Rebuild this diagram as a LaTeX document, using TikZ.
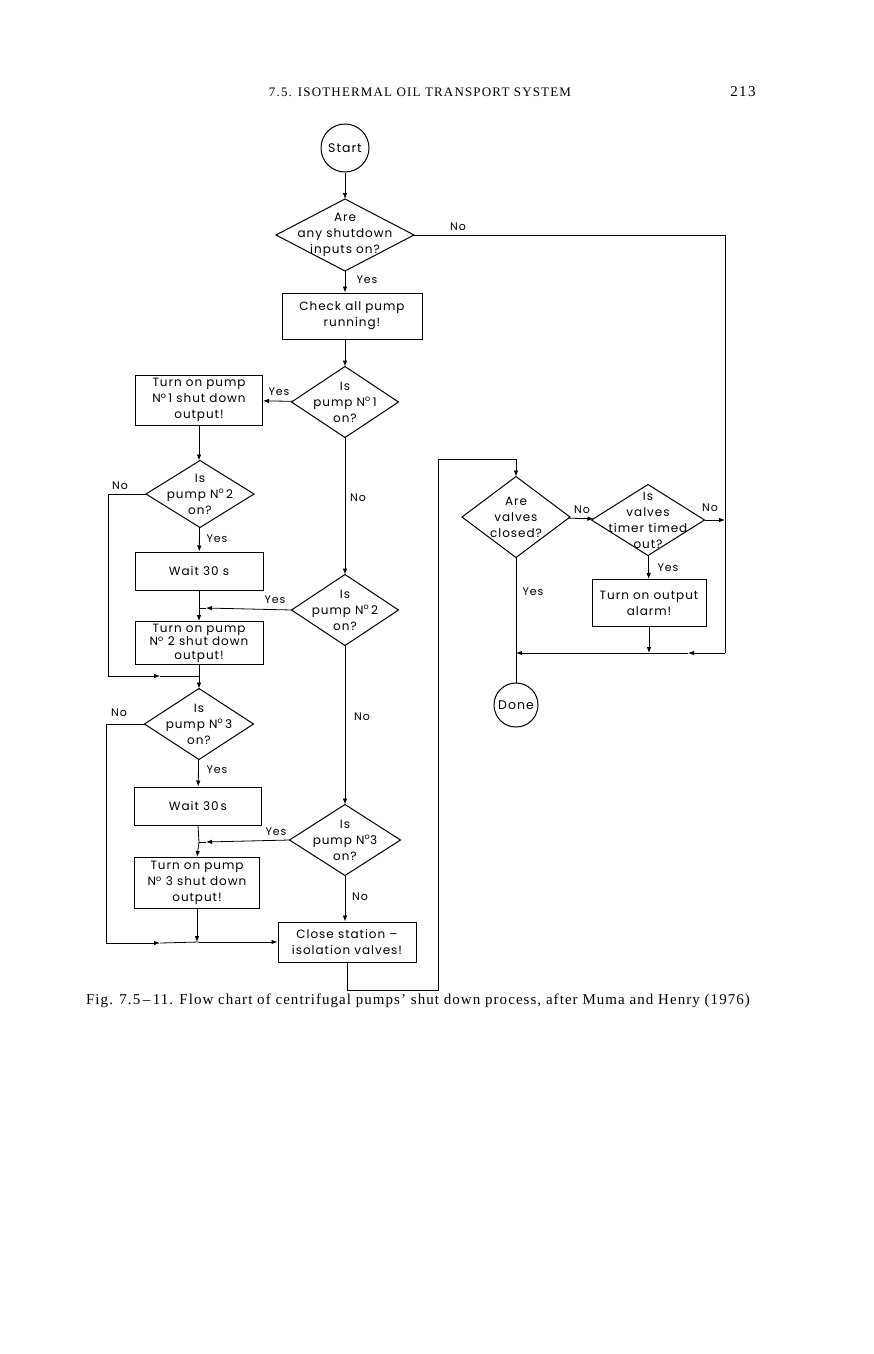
\documentclass[tikz,border=0pt]{standalone}
\usepackage{fontspec}
\setmainfont{Liberation Serif}
\newfontfamily\chartfont[LetterSpace=8,WordSpace=2.2]{Poppins}
\newfontfamily\tagfont[LetterSpace=8]{Poppins}
\newfontfamily\headfont[LetterSpace=9]{Liberation Serif}
\newfontfamily\capfont[LetterSpace=7]{Liberation Serif}
\usetikzlibrary{shapes.geometric,arrows.meta}

\begin{document}
\begin{tikzpicture}
	[
		x=1pt, y=-1pt,
		line width=0.8pt,
		font=\chartfont\fontsize{12}{16}\selectfont,
		box/.style = {rectangle, align=center, draw=black, fill=none, inner sep=0pt, line width=1pt},
		term/.style = {circle, align=center, draw=black, fill=none, inner sep=0pt, line width=1pt, font=\tagfont\fontsize{12.5}{16}\selectfont},
		decision/.style = {diamond, draw=black, fill=none, inner sep=0pt, outer sep=0pt, line width=1pt},
		ask/.style = {decision, label={[align=center]center:#1}},
		tag/.style = {inner sep=0pt, font=\tagfont\fontsize{11}{13}\selectfont},
		arr/.style = {-{Latex[length=6pt,width=4.5pt]}},
		print/.style = {inner sep=0pt},
	]

	\useasboundingbox (0,0) rectangle (874,1354);

	% page texts
	\node[print, font=\headfont\fontsize{13}{15}\selectfont] (head) at (420,92) {7.5. ISOTHERMAL OIL TRANSPORT SYSTEM};
	\node[print, font=\headfont\fontsize{15}{17}\selectfont] (page) at (743,92) {213};
	\node[print, font=\capfont\fontsize{15}{17}\selectfont] (cap) at (418,1001) {Fig. 7.5\,\textendash\,11. Flow chart of centrifugal pumps’ shut down process, after Muma and Henry (1976)};

	% terminals
	\node[term, minimum size=48pt] (start) at (345,148) {Start};
	\node[term, minimum size=44pt] (done) at (516,705) {Done};

	% questions
	\node[ask={Are\\any shutdown\\inputs on?}, minimum width=138pt, minimum height=72pt] (d0) at (345,235) {};
	\node[ask={Is\\pump N\textsuperscript{o}\,1\\on?}, minimum width=107pt, minimum height=71pt] (p1) at (345,402) {};
	\node[ask={Is\\pump N\textsuperscript{o}\,2\\on?}, minimum width=108pt, minimum height=67pt] (p2a) at (200,494) {};
	\node[ask={Is\\pump N\textsuperscript{o}\,3\\on?}, minimum width=109pt, minimum height=71pt] (p3a) at (199,724) {};
	\node[ask={Is\\pump N\textsuperscript{o}\,2\\on?}, minimum width=107pt, minimum height=71pt] (p2b) at (345,610) {};
	\node[ask={Is\\pump N\textsuperscript{o}3\\on?}, minimum width=111pt, minimum height=71pt] (p3b) at (345,840) {};
	\node[ask={Are\\valves\\closed?}, minimum width=108pt, minimum height=81pt] (av) at (516,517) {};
	\node[ask={Is\\valves\\timer timed\\out?}, minimum width=113pt, minimum height=71pt] (tm) at (648,520) {};

	% actions
	\node[box, minimum width=140pt, minimum height=46pt] (chk) at (352,316) {Check all pump\\running!};
	\node[box, minimum width=127pt, minimum height=50pt] (on1) at (199,400) {Turn on pump\\N\textsuperscript{o}\,1 shut down\\output!};
	\node[box, minimum width=128pt, minimum height=38pt] (w1) at (199,571) {Wait 30 s};
	\node[box, minimum width=128pt, minimum height=43pt, font=\chartfont\fontsize{12}{13.5}\selectfont] (on2) at (199,643) {Turn on pump\\N\textsuperscript{o} 2 shut down\\output!};
	\node[box, minimum width=127pt, minimum height=38pt] (w2) at (198,806) {Wait 30\,s};
	\node[box, minimum width=125pt, minimum height=51pt] (on3) at (197,883) {Turn on pump\\N\textsuperscript{o} 3 shut down\\output!};
	\node[box, minimum width=138pt, minimum height=40pt] (cls) at (347,942) {Close station \textendash\\isolation valves!};
	\node[box, minimum width=114pt, minimum height=47pt] (alm) at (649,603) {Turn on output\\alarm!};

	% bends and joins
	\coordinate (rb) at (725,653);
	\coordinate (rm) at (688,653);
	\coordinate (ja) at (516,653);
	\coordinate (j1) at (199,608);
	\coordinate (y2m) at (206,608);
	\coordinate (n2c) at (108,676);
	\coordinate (n2m) at (160,676);
	\coordinate (j2) at (199,676);
	\coordinate (j3) at (199,842);
	\coordinate (y3m) at (206,842);
	\coordinate (n3c) at (106,943);
	\coordinate (n3m) at (160,943);
	\coordinate (j4) at (199,942);
	\coordinate (lpb) at (438,990);
	\coordinate (lpt) at (438,459);

	% straight arrows
	\foreach \from/\to in {start/d0,p1/p2b,p2b/p3b,p1/on1,p2a/w1,p3a/w2,av/tm,tm/alm}
	\draw[arr] (\from) -- (\to);

	\draw[arr] (d0.south) -- (d0.south |- chk.north);
	\draw[arr] (chk.south -| p1.north) -- (p1.north);
	\draw[arr] (on1.south) -- (on1.south |- p2a.north);
	\draw[arr] (p3b.south) -- (p3b.south |- cls.north);

	% joins on the left
	\draw (w1.south) -- (j1);
	\draw[arr] (j1) -- (on2.north);
	\draw[arr] (p2b.west) -- (y2m);
	\draw (y2m) -- (j1);
	\draw (p2a.west) -| (n2c);
	\draw[arr] (n2c) -- (n2m);
	\draw (n2m) -- (j2);
	\draw (on2.south) -- (j2);
	\draw[arr] (j2) -- (p3a.north);
	\draw (w2.south) -- (j3);
	\draw[arr] (j3) -- (on3.north);
	\draw[arr] (p3b.west) -- (y3m);
	\draw (y3m) -- (j3);
	\draw (p3a.west) -| (n3c);
	\draw[arr] (n3c) -- (n3m);
	\draw (n3m) -- (j4);
	\draw[arr] (on3.south) -- (on3.south |- j4);
	\draw[arr] (j4) -- (cls.west);

	% loop to the valves
	\draw[arr] (cls.south) |- (lpb) -- (lpt) -| (av.north);
	\draw (av.south) -- (done.north);
	\draw (d0.east) -| (rb);
	\draw[arr] (tm.east) -- (tm.east -| rb);
	\draw[arr] (rb) -- (rm);
	\draw[arr] (rm) -- (ja);
	\draw[arr] (alm.south) -- (alm.south |- ja);

	% answers
	\node[tag] (n0) at (458,227) {No};
	\node[tag] (y0) at (367,280) {Yes};
	\node[tag] (y1) at (279,392) {Yes};
	\node[tag] (n1) at (358,498) {No};
	\node[tag] (n2a) at (120,486) {No};
	\node[tag] (y2a) at (217,539) {Yes};
	\node[tag] (y2b) at (275,600) {Yes};
	\node[tag] (n3a) at (119,713) {No};
	\node[tag] (n2b) at (362,717) {No};
	\node[tag] (y3a) at (217,770) {Yes};
	\node[tag] (y3b) at (276,832) {Yes};
	\node[tag] (n3b) at (360,897) {No};
	\node[tag] (nav) at (582,510) {No};
	\node[tag] (ntm) at (710,508) {No};
	\node[tag] (ytm) at (668,568) {Yes};
	\node[tag] (yav) at (533,592) {Yes};

\end{tikzpicture}
\end{document}
